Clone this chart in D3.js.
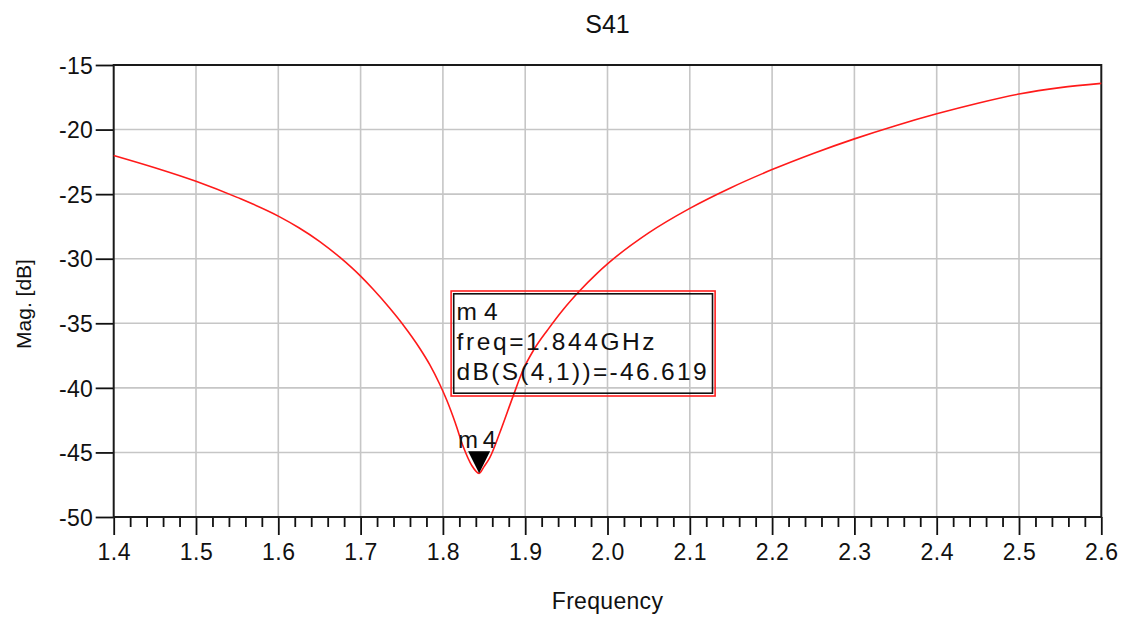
<!DOCTYPE html>
<html>
<head>
<meta charset="utf-8">
<script src="https://cdn.jsdelivr.net/npm/d3@7"></script>
<style>
  body { margin: 0; background: #fff; }
  svg { display: block; font-family: Arial, "Liberation Sans", sans-serif; }
</style>
</head>
<body>
<svg id="chart" width="1127" height="621"></svg>
<script>
// S41 magnitude sweep

const freqGHz = [1.40, 1.45, 1.50, 1.55, 1.60, 1.625, 1.65, 1.675, 1.70, 1.715,
  1.735, 1.752, 1.772, 1.784, 1.796, 1.805, 1.815, 1.825, 1.835, 1.844,
  1.850, 1.857, 1.869, 1.885, 1.8975, 1.91, 1.928, 1.946, 1.966, 1.987,
  2.00, 2.05, 2.10, 2.15, 2.20, 2.25, 2.30, 2.35, 2.40, 2.45,
  2.50, 2.55, 2.60];
const magDb = [-22.0, -22.95, -24.0, -25.25, -26.7, -27.6, -28.65, -29.9, -31.35, -32.35,
  -33.8, -35.15, -36.95, -38.2, -39.7, -41.0, -42.7, -44.6, -46.0, -46.619,
  -46.1, -45.4, -43.5, -40.7, -38.6, -37.1, -35.45, -33.95, -32.5, -31.15,
  -30.4, -28.0, -26.1, -24.5, -23.1, -21.85, -20.72, -19.7, -18.78, -17.96,
  -17.25, -16.75, -16.42];

const xTicks = d3.range(14, 27).map(d => d / 10);
const xMinorTicks = d3.range(0, 61).filter(i => i % 5 !== 0).map(i => 1.4 + i * 0.02);
const yTicks = [-50, -45, -40, -35, -30, -25, -20, -15];

const title = 'S41';
const xLabel = 'Frequency';
const yLabel = 'Mag. [dB]';

const markerName = 'm4';
const markerFreq = 1.844;
const markerDb = -46.619;
const markerLines = ['m4', 'freq=1.844GHz', 'dB(S(4,1))=-46.619'];

// -----------------------------------------------------------------------------
// LAYOUT
// -----------------------------------------------------------------------------

const W = 1127, H = 621;
const margin = { top: 65, right: 25.7, bottom: 104, left: 113.7 };
const plotW = W - margin.left - margin.right;
const plotH = H - margin.top - margin.bottom;
const FONT = 'Arial, "Liberation Sans", sans-serif';

const svg = d3.select('#chart');
const g = svg.append('g').attr('transform', `translate(${margin.left},${margin.top})`);

const x = d3.scaleLinear().domain([1.4, 2.6]).range([0, plotW]);
const y = d3.scaleLinear().domain([-50, -15]).range([plotH, 0]);

// grid
g.append('g').selectAll('line').data(xTicks.slice(1, -1)).join('line')
  .attr('x1', d => x(d)).attr('x2', d => x(d))
  .attr('y1', 0).attr('y2', plotH)
  .attr('stroke', '#c6c6c6').attr('stroke-width', 1.6);
g.append('g').selectAll('line').data(yTicks.slice(1, -1)).join('line')
  .attr('x1', 0).attr('x2', plotW)
  .attr('y1', d => y(d)).attr('y2', d => y(d))
  .attr('stroke', '#c6c6c6').attr('stroke-width', 1.6);

// axes
const xAxis = g.append('g').attr('transform', `translate(0,${plotH})`)
  .call(d3.axisBottom(x).tickValues(xTicks).tickFormat(d3.format('.1f')).tickSize(18).tickSizeOuter(0));
xAxis.select('.domain').remove();
xAxis.selectAll('line').attr('stroke', '#111').attr('stroke-width', 1.8);
xAxis.selectAll('text')
  .attr('y', 43).attr('dy', null)
  .attr('fill', '#111').attr('font-size', 23).attr('font-family', FONT)
  .attr('letter-spacing', 0.5);

const xMinor = g.append('g').attr('transform', `translate(0,${plotH})`)
  .call(d3.axisBottom(x).tickValues(xMinorTicks).tickFormat('').tickSize(10).tickSizeOuter(0));
xMinor.select('.domain').remove();
xMinor.selectAll('line').attr('stroke', '#111').attr('stroke-width', 1.8);

// ADS prints a plain hyphen for negatives
const yAxis = g.append('g')
  .call(d3.axisLeft(y).tickValues(yTicks).tickFormat(d => String(d)).tickSize(18).tickSizeOuter(0));
yAxis.select('.domain').remove();
yAxis.selectAll('line').attr('stroke', '#111').attr('stroke-width', 1.8);
yAxis.selectAll('text')
  .attr('x', -20.5).attr('dy', '0.36em')
  .attr('fill', '#111').attr('font-size', 23).attr('font-family', FONT)
  .attr('letter-spacing', 0.3);

// frame
g.append('rect')
  .attr('x', 0).attr('y', 0).attr('width', plotW).attr('height', plotH)
  .attr('fill', 'none').attr('stroke', '#1a1a1a').attr('stroke-width', 2);

// -----------------------------------------------------------------------------
// CURVE
// -----------------------------------------------------------------------------

const points = freqGHz.map((f, i) => [f, magDb[i]]);
const line = d3.line().x(d => x(d[0])).y(d => y(d[1])).curve(d3.curveMonotoneX);

g.append('path')
  .datum(points)
  .attr('d', line)
  .attr('fill', 'none')
  .attr('stroke', '#ff1a1a')
  .attr('stroke-width', 1.6);

// -----------------------------------------------------------------------------
// MARKER
// -----------------------------------------------------------------------------

const mx = x(markerFreq), my = y(markerDb);
g.append('path')
  .attr('d', `M${mx},${my} L${mx - 11},${my - 22} L${mx + 11},${my - 22} Z`)
  .attr('fill', '#000');
g.append('text')
  .attr('x', mx - 21).attr('y', my - 25)
  .attr('font-size', 24).attr('fill', '#111')
  .attr('textLength', 38).attr('lengthAdjust', 'spacing')
  .text(markerName);

// readout box
const bx = mx - 28, by = y(-32.5);
const bw = 264, bh = 105;
g.append('rect')
  .attr('x', bx).attr('y', by).attr('width', bw).attr('height', bh)
  .attr('fill', 'none').attr('stroke', '#ff2020').attr('stroke-width', 1.6);
g.append('rect')
  .attr('x', bx + 2.6).attr('y', by + 2.8).attr('width', bw - 5.2).attr('height', bh - 5.6)
  .attr('fill', 'none').attr('stroke', '#111').attr('stroke-width', 1.6);

const lineLengths = [41, 198, 250];
g.append('g').selectAll('text').data(markerLines).join('text')
  .attr('x', bx + 5.5)
  .attr('y', (d, i) => by + 29 + i * 30)
  .attr('font-size', 24.5).attr('fill', '#111')
  .attr('textLength', (d, i) => lineLengths[i]).attr('lengthAdjust', 'spacing')
  .text(d => d);

// -----------------------------------------------------------------------------
// LABELS
// -----------------------------------------------------------------------------

svg.append('text')
  .attr('x', margin.left + plotW / 2).attr('y', 33)
  .attr('text-anchor', 'middle').attr('font-size', 25).attr('fill', '#111')
  .text(title);

svg.append('text')
  .attr('x', margin.left + plotW / 2).attr('y', 609)
  .attr('text-anchor', 'middle').attr('font-size', 23).attr('fill', '#111')
  .attr('letter-spacing', 0.3)
  .text(xLabel);

svg.append('text')
  .attr('transform', `translate(31,${margin.top + plotH / 2 + 13}) rotate(-90)`)
  .attr('text-anchor', 'middle').attr('font-size', 21).attr('fill', '#111')
  .text(yLabel);
</script>
</body>
</html>
